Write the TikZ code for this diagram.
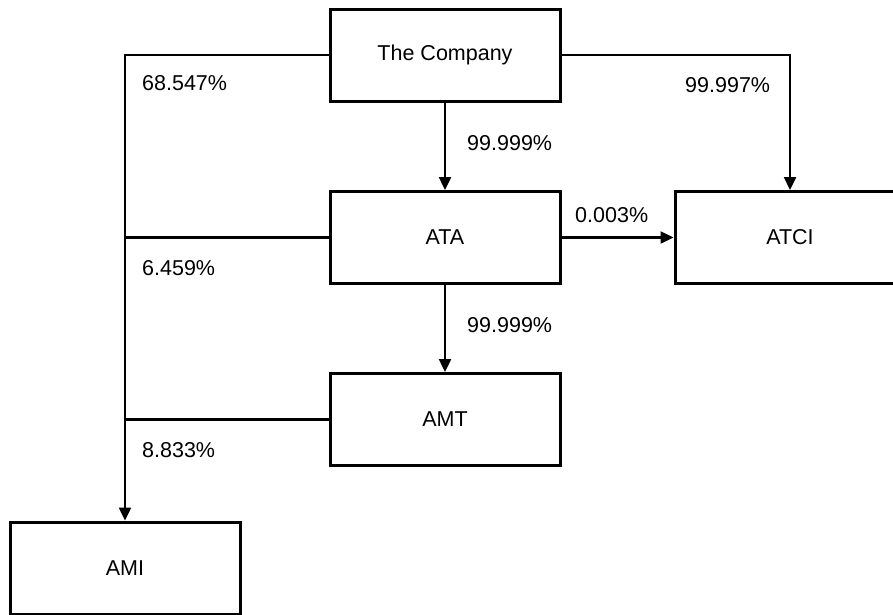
\documentclass[tikz,border=0pt]{standalone}
\usepackage{fontspec}
\setmainfont{Liberation Sans}
\usetikzlibrary{arrows.meta}

\begin{document}
\begin{tikzpicture}[x=1pt, y=-1pt,
	company/.style={draw, line width=3pt, minimum width=230pt, minimum height=92pt, font=\fontsize{21.5}{26}\selectfont},
	share/.style={anchor=west, inner sep=0pt, font=\fontsize{21.5}{26}\selectfont},
	link/.style={line width=2.4pt},
	own/.style={line width=2.4pt, -{Triangle[length=13pt, width=12pt]}}]
	%%%%% START %%%%%
	\useasboundingbox (0, 0) rectangle (893, 614);
	
	\node[company] (co) at (445, 55) {The Company};
	\node[company] (ata) at (445, 237.5) {ATA};
	\node[company] (atci) at (790, 237.5) {ATCI};
	\node[company] (amt) at (445, 419.5) {AMT};
	\node[company] (ami) at (125, 568) {AMI};
	
	\draw[own] (co.west) -| (ami.north);
	\draw[link] (ata.west) -- (ata.west -| ami.north);
	\draw[link] (amt.west) -- (amt.west -| ami.north);
	\draw[own] (co.east) -| (atci.north);
	\draw[own] (co.south) -- (ata.north);
	\draw[own] (ata.south) -- (amt.north);
	\draw[own] (ata.east) -- (atci.west);
	
	\node[share] (s1) at (142, 83) {68.547\%};
	\node[share] (s2) at (685, 85) {99.997\%};
	\node[share] (s3) at (467, 143) {99.999\%};
	\node[share] (s4) at (575, 215) {0.003\%};
	\node[share] (s5) at (142, 268) {6.459\%};
	\node[share] (s6) at (467, 325) {99.999\%};
	\node[share] (s7) at (142, 450) {8.833\%};
	%%%%% END %%%%%
\end{tikzpicture}
\end{document}
